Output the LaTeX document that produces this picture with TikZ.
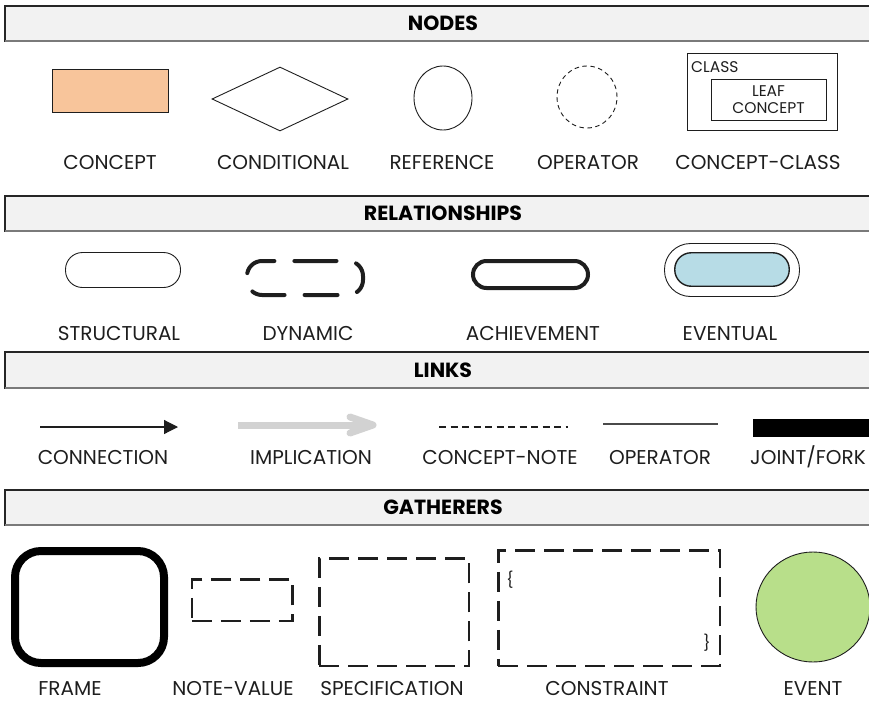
\documentclass[tikz,border=0pt]{standalone}
\usepackage{fontspec}
\setmainfont{Poppins}
\usetikzlibrary{shapes.geometric,arrows.meta,calc}

\definecolor{hdrfill}{HTML}{F2F2F2}
\definecolor{hdrline}{HTML}{262626}
\definecolor{hdrshade}{HTML}{7A7A7A}
\definecolor{ink}{HTML}{1E1E1E}
\definecolor{conceptfill}{HTML}{F8C59B}
\definecolor{eventualfill}{HTML}{B7DCE6}
\definecolor{eventfill}{HTML}{B8DF8A}
\definecolor{implgray}{HTML}{D2D2D2}
\definecolor{opgray}{HTML}{4A4A4A}

\tikzset{
  hdrbar/.style={fill=hdrfill, draw=hdrline, line width=1.2pt},
  hdrtext/.style={font=\fontsize{20.5}{24}\selectfont\bfseries, text=black, inner sep=0pt},
  lbl/.style={font=\fontsize{20}{24}\selectfont, text=ink, inner sep=0pt, text height=14pt, text depth=0pt},
  small/.style={font=\fontsize{15.5}{19}\selectfont, text=ink, inner sep=0pt},
  thin/.style={draw=ink, line width=0.9pt},
  shapebox/.style={thin, rectangle, inner sep=0pt},
  gdash/.style={draw=ink, line width=2.5pt, dash pattern=on 20pt off 9pt, rectangle, inner sep=0pt},
}

\begin{document}
\begin{tikzpicture}[x=1pt,y=-1pt]
\useasboundingbox (0,0) rectangle (869,701);
\clip (0,0) rectangle (869,701);

% ---------- section bars ----------
\foreach \top/\bot/\name/\txt in {6/41/hnodes/NODES, 196/231/hrel/RELATIONSHIPS, 352/388/hlinks/LINKS, 490/525/hgath/GATHERERS}{
  \draw[hdrbar] (5,\top) rectangle (880,\bot);
  \draw[hdrshade, line width=1.6pt] (5,\bot) -- (880,\bot);
  \node[hdrtext] (\name) at (443,{(\top+\bot)/2}) {\txt};
}

% ---------- nodes ----------
\node[shapebox, fill=conceptfill, minimum width=116pt, minimum height=43pt] (concept) at (110,90.5) {};
\node[thin, diamond, inner sep=0pt, minimum width=136pt, minimum height=64pt, aspect=2.1] (cond) at (280,99) {};
\node[thin, ellipse, inner sep=0pt, minimum width=58pt, minimum height=64pt] (ref) at (443,98) {};
\node[thin, ellipse, inner sep=0pt, dash pattern=on 4.5pt off 3.5pt, minimum width=60pt, minimum height=62pt] (oper) at (587,97) {};
\node[shapebox, minimum width=150pt, minimum height=77pt] (cclass) at (762,91.5) {};
\node[shapebox, minimum width=115pt, minimum height=41pt] (leaf) at (768.5,99.5) {};
\node[small, align=center] (leaftxt) at (768.5,99.5) {LEAF\\[-1.5pt]CONCEPT};
\node[small, anchor=west] (classtxt) at (691,67) {CLASS};

\node[lbl] (lconcept) at (110,162) {CONCEPT};
\node[lbl] (lcond) at (283,162) {CONDITIONAL};
\node[lbl] (lref) at (442,162) {REFERENCE};
\node[lbl] (loper) at (588,162) {OPERATOR};
\node[lbl] (lcclass) at (758,162) {CONCEPT-CLASS};

% ---------- relationships ----------
\node[shapebox, minimum width=115pt, minimum height=35pt, rounded corners=17pt] (struct) at (123,270) {};
\draw[ink, line width=4pt, line cap=round, dash pattern=on 33pt off 20pt, dash phase=16.5pt, rounded corners=15pt]
  (305,261) -- (363,261) -- (363,295) -- (247,295) -- (247,261) -- cycle;
\node[draw=ink, line width=4pt, rectangle, inner sep=0pt, minimum width=115pt, minimum height=27pt, rounded corners=13.5pt] (achieve) at (530.5,274.5) {};
\node[shapebox, minimum width=135pt, minimum height=53pt, rounded corners=26pt] (evout) at (732,270) {};
\node[draw=ink, line width=1.4pt, fill=eventualfill, rectangle, inner sep=0pt, minimum width=114.5pt, minimum height=33.5pt, rounded corners=16.5pt] (evin) at (732,269.5) {};

\node[lbl] (lstruct) at (119,333) {STRUCTURAL};
\node[lbl] (ldyn) at (308,333) {DYNAMIC};
\node[lbl] (lach) at (533,333) {ACHIEVEMENT};
\node[lbl] (lev) at (730,333) {EVENTUAL};

% ---------- links ----------
\coordinate (cnA) at (40,427);
\coordinate (cnB) at (178,427);
\draw[ink, line width=1.2pt, -{Triangle[length=14pt,width=14pt]}] (cnA) -- (cnB);

\coordinate (imA) at (238,425);
\coordinate (imB) at (373,425);
\draw[implgray, line width=7pt] (imA) -- ($(imB)+(-2,0)$);
\draw[implgray, line width=7pt, line cap=round, line join=round]
  ($(imB)+(-23,-8)$) -- (imB) -- ($(imB)+(-23,8)$);

\coordinate (ntA) at (439,427);
\coordinate (ntB) at (568,427);
\draw[ink, line width=1.3pt, dash pattern=on 7pt off 4.5pt] (ntA) -- (ntB);

\coordinate (opA) at (603,424);
\coordinate (opB) at (718,424);
\draw[opgray, line width=1.1pt] (opA) -- (opB);

\node[fill=black, rectangle, inner sep=0pt, minimum width=130pt, minimum height=18pt, anchor=west] (fork) at (753,428) {};

\node[lbl] (lconn) at (103,457) {CONNECTION};
\node[lbl] (limpl) at (311,457) {IMPLICATION};
\node[lbl] (lnote) at (500,457) {CONCEPT-NOTE};
\node[lbl] (lop) at (660,457) {OPERATOR};
\node[lbl] (lfork) at (808,457) {JOINT/FORK};

% ---------- gatherers ----------
\node[draw=black, line width=8pt, rectangle, inner sep=0pt, minimum width=149pt, minimum height=112pt, rounded corners=26pt] (frame) at (89.5,607) {};
\node[gdash, minimum width=100.5pt, minimum height=41.5pt] (noteval) at (242,600) {};
\node[gdash, minimum width=149.5pt, minimum height=107.5pt] (spec) at (394,612) {};
\node[gdash, minimum width=221.5pt, minimum height=115.5pt] (constr) at (609,608) {};
\node[small] (lbrace) at (510,580) {\{};
\node[small] (rbrace) at (707,643) {\}};
\node[thin, ellipse, fill=eventfill, inner sep=0pt, minimum width=114pt, minimum height=110pt] (event) at (813,607) {};

\node[lbl] (lframe) at (70,688) {FRAME};
\node[lbl] (lnv) at (233,688) {NOTE-VALUE};
\node[lbl] (lspec) at (392,688) {SPECIFICATION};
\node[lbl] (lcon) at (607,688) {CONSTRAINT};
\node[lbl] (lev2) at (813,688) {EVENT};
\end{tikzpicture}
\end{document}
